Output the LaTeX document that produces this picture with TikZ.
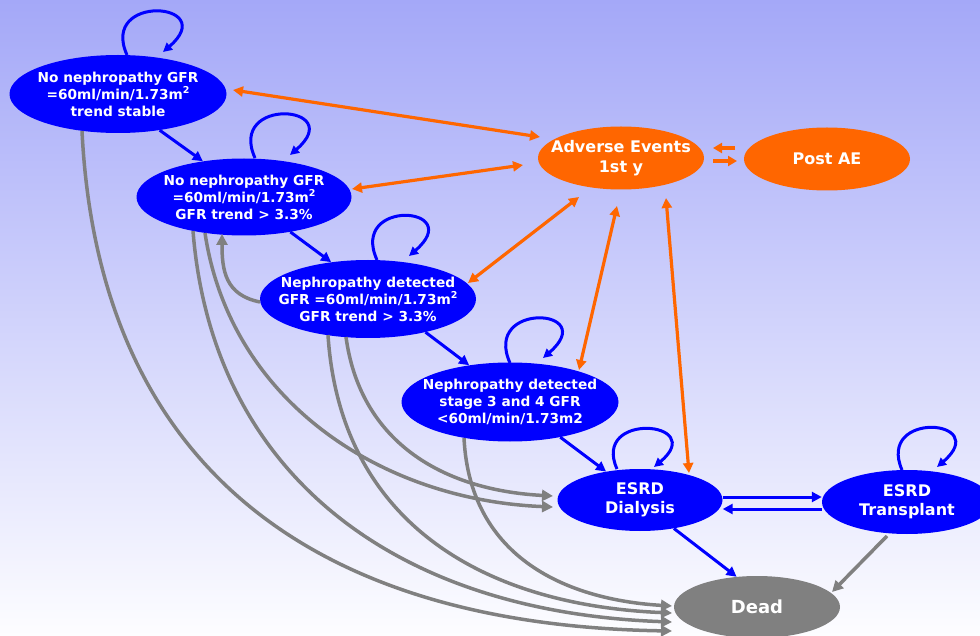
\documentclass[tikz,border=0pt]{standalone}
\usepackage{fontspec}
\setmainfont{DejaVu Sans}
\usetikzlibrary{shapes.geometric,arrows.meta,calc}
\definecolor{nblue}{RGB}{0,0,255}
\definecolor{norange}{RGB}{255,102,0}
\definecolor{ngray}{RGB}{128,128,128}
\definecolor{bgtop}{RGB}{164,168,248}
\definecolor{bgbot}{RGB}{253,253,255}
\newcommand{\sqtwo}{\raisebox{0.42em}{\fontsize{9.5}{9.5}\selectfont 2}}
\begin{document}
\begin{tikzpicture}[x=1pt,y=-1pt,
  state/.style={ellipse, inner sep=-40pt, text=white, align=center},
  bstate/.style={state, fill=nblue, minimum width=217pt, minimum height=78pt,
    font=\bfseries\fontsize{13.7}{17}\selectfont},
  estate/.style={state, fill=nblue, minimum width=166pt, minimum height=63pt,
    font=\bfseries\fontsize{16}{19}\selectfont},
  ostate/.style={state, fill=norange, minimum width=166pt, minimum height=63pt,
    font=\bfseries\fontsize{16}{20}\selectfont},
  gstate/.style={state, fill=ngray, minimum width=166pt, minimum height=62pt,
    font=\bfseries\fontsize{18}{20}\selectfont},
  barr/.style={draw=nblue, line width=3pt, -{Triangle[length=10pt,width=10pt]}},
  loopst/.style={draw=nblue, line width=3pt, -{Triangle[length=9pt,width=9pt]}},
  garr/.style={draw=ngray, line width=3.5pt, -{Triangle[length=11pt,width=11pt]}},
  oarr/.style={draw=norange, line width=3.2pt, {Triangle[length=10pt,width=10pt]}-{Triangle[length=10pt,width=10pt]}},
  oone/.style={draw=norange, line width=3.2pt, -{Triangle[length=9pt,width=10pt]}}
]
\useasboundingbox (0,0) rectangle (980,636);
\begin{scope}
\clip (0,0) rectangle (980,636);
\shade[top color=bgtop, bottom color=bgbot] (0,0) rectangle (980,636);

% nodes
\node[bstate] (n1) at (118,94) {No nephropathy GFR\\=60ml/min/1.73m\sqtwo\\trend stable};
\node[bstate, minimum width=215pt, minimum height=77pt] (n2) at (244,197) {No nephropathy GFR\\=60ml/min/1.73m\sqtwo\\GFR trend > 3.3\%};
\node[bstate, minimum width=216pt] (n3) at (368,299) {Nephropathy detected\\GFR =60ml/min/1.73m\sqtwo\\GFR trend > 3.3\%};
\node[bstate, minimum height=79pt] (n4) at (510,402) {Nephropathy detected\\stage 3 and 4 GFR\\<60ml/min/1.73m2};
\node[ostate] (ae) at (621,158) {Adverse Events\\1st y};
\node[ostate] (pae) at (827,159) {Post AE};
\node[estate, minimum width=165pt, minimum height=62pt] (dia) at (640,500) {ESRD\\Dialysis};
\node[estate, minimum width=170pt, minimum height=64pt] (tra) at (907,502) {ESRD\\Transplant};
\node[gstate] (dead) at (757,607) {Dead};

% gray curves
\draw[garr] ($(n1)+(-36,37)$) .. controls (98,455) and (300,625) .. ($(dead)+(-85,24)$);
\draw[garr] ($(n2)+(-51,34)$) .. controls (212,470) and (390,612) .. ($(dead)+(-85,15)$);
\draw[garr] ($(n2)+(-39,36)$) .. controls (230,400) and (380,500) .. ($(dia)+(-87,7)$);
\draw[garr] ($(n3)+(-40,36)$) .. controls (340,520) and (480,605) .. ($(dead)+(-85,6)$);
\draw[garr] ($(n3)+(-22,38)$) .. controls (360,440) and (440,490) .. ($(dia)+(-87,-4)$);
\draw[garr] ($(n4)+(-46,36)$) .. controls (470,560) and (570,600) .. ($(dead)+(-85,-1)$);
\draw[garr] ($(n3)+(-108,3)$) .. controls (225,295) and (222,270) .. ($(n2)+(-22,37)$);
\draw[garr] ($(tra)+(-20,34)$) -- ($(dead)+(75,-15)$);

% blue arrows
\draw[barr] (n1.-41) -- (n2.139);
\draw[barr] (n2.-37) -- (n3.135);
\draw[barr] (n3.-30) -- (n4.138);
\draw[barr] (n4.-35) -- (dia.140);
\draw[barr] (dia.-40) -- (dead.124);
\draw[barr] ([yshift=3pt]dia.east) -- ([yshift=3pt]dia.east -| tra.west);
\draw[barr] ([yshift=-9pt]dia.east -| tra.west) -- ([yshift=-9pt]dia.east);

% self loops
\draw[loopst] ($(n1)+(9,-39)$) .. controls +(-28,-62) and +(58,-50) .. ($(n1)+(45,-42)$);
\draw[loopst] ($(n2)+(11,-39)$) .. controls +(-28,-62) and +(58,-50) .. ($(n2)+(46,-42)$);
\draw[loopst] ($(n3)+(9,-39)$) .. controls +(-28,-62) and +(58,-50) .. ($(n3)+(41,-43)$);
\draw[loopst] ($(n4)+(0,-39)$) .. controls +(-28,-62) and +(58,-50) .. ($(n4)+(33,-44)$);
\draw[loopst] ($(dia)+(-23,-31)$) .. controls +(-26,-58) and +(55,-46) .. ($(dia)+(14,-33)$);
\draw[loopst] ($(tra)+(-5,-32)$) .. controls +(-26,-60) and +(56,-48) .. ($(tra)+(30,-35)$);

% orange arrows
\draw[oarr] ($(n1)+(115,-4)$) -- ($(ae)+(-81,-21)$);
\draw[oarr] ($(n2)+(108,-8)$) -- ($(ae)+(-98,7)$);
\draw[oarr] ($(n3)+(100,-16)$) -- ($(ae)+(-42,39)$);
\draw[oarr] ($(n4)+(69,-32)$) -- ($(ae)+(-4,48)$);
\draw[oarr] ($(dia)+(49,-27)$) -- ($(ae)+(45,40)$);
\draw[oone] ($(pae)+(-92,-11)$) -- ($(ae)+(92,-10)$);
\draw[oone] ($(ae)+(92,3)$) -- ($(pae)+(-90,2)$);
\end{scope}
\end{tikzpicture}
\end{document}
